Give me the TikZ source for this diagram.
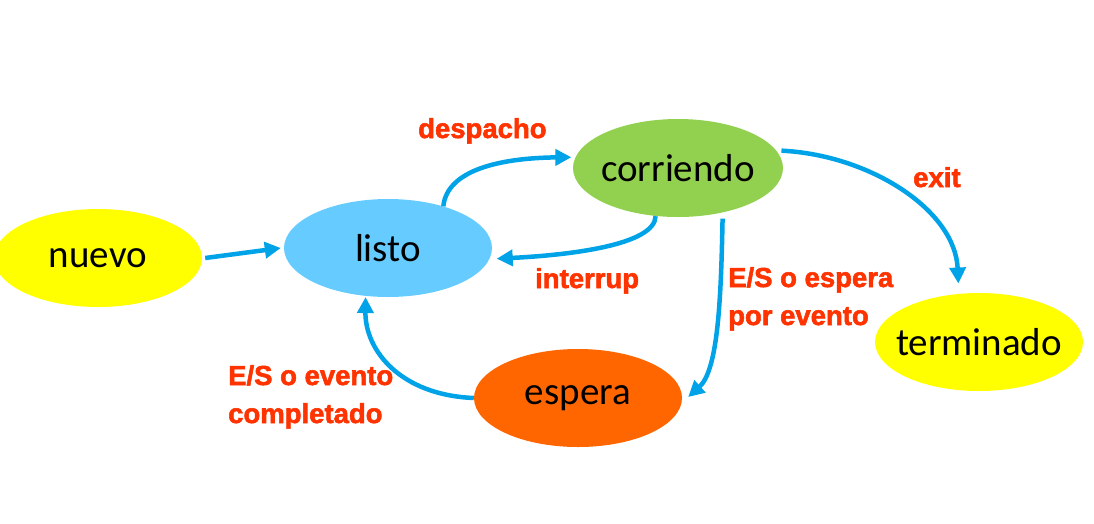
\documentclass[tikz,border=0pt]{standalone}
\usepackage{fontspec}
\setmainfont{Carlito}
\newfontfamily\lblfont{Liberation Sans}[BoldFeatures={FakeBold=2}]
\usetikzlibrary{shapes.geometric,arrows.meta}
\definecolor{stateyellow}{RGB}{255,255,0}
\definecolor{stateblue}{RGB}{102,204,255}
\definecolor{stategreen}{RGB}{146,208,80}
\definecolor{stateorange}{RGB}{255,102,0}
\definecolor{lblred}{RGB}{255,51,0}
\definecolor{arrowblue}{RGB}{0,163,232}
\newcommand{\stxt}[1]{\makebox[0pt]{#1}}
\begin{document}
\begin{tikzpicture}[x=1pt,y=-1pt,
  state/.style={ellipse, minimum width=208pt, minimum height=98pt, inner sep=0pt,
    font=\fontsize{39}{41}\selectfont},
  lbl/.style={anchor=base west, inner sep=0pt, text=lblred,
    font=\lblfont\bfseries\fontsize{27.5}{30}\selectfont},
  conn/.style={draw=arrowblue, line width=4.5pt, -{Triangle[length=16pt,width=16pt]}}]
\useasboundingbox (0,0) rectangle (1094,523);

\node[state, fill=stateyellow] (nuevo) at (98,258) {\stxt{nuevo}};
\node[state, fill=stateblue] (listo) at (388,248) {\stxt{listo}};
\node[state, fill=stategreen, minimum width=210pt] (corriendo) at (678,168) {\stxt{corriendo}};
\node[state, fill=stateyellow] (terminado) at (979,342) {\stxt{terminado}};
\node[state, fill=stateorange] (espera) at (578,398) {\stxt{espera}};

\draw[conn] ([xshift=3pt]nuevo.east) -- ([xshift=-3pt]listo.west);
\draw[conn] (listo.37) .. controls (447,170) and (500,158) .. ([xshift=-4pt]corriendo.174);
\draw[conn] (corriendo.245) .. controls (655,245) and (570,255) .. ([xshift=7pt]listo.-6);
\draw[conn] ([xshift=5pt]corriendo.10) .. controls (870,155) and (955,210) .. ([shift={(-3,-10)}]terminado.110);
\draw[conn] ([shift={(0,6)}]corriendo.-45) .. controls (721,300) and (718,370) .. ([shift={(6,-1)}]espera.east);
\draw[conn] (espera.west) .. controls (400,395) and (365,350) .. ([shift={(0,1)}]listo.245);

\node[lbl] (despacho) at (418,138) {despacho};
\node[lbl] (interrup) at (535,288) {interrup};
\node[lbl] (exit) at (913,187) {exit};
\node[lbl] (esperaA) at (728,287) {E/S o espera};
\node[lbl] (esperaB) at (728,325) {por evento};
\node[lbl] (eventoA) at (228,385) {E/S o evento};
\node[lbl] (eventoB) at (228,423) {completado};
\end{tikzpicture}
\end{document}
